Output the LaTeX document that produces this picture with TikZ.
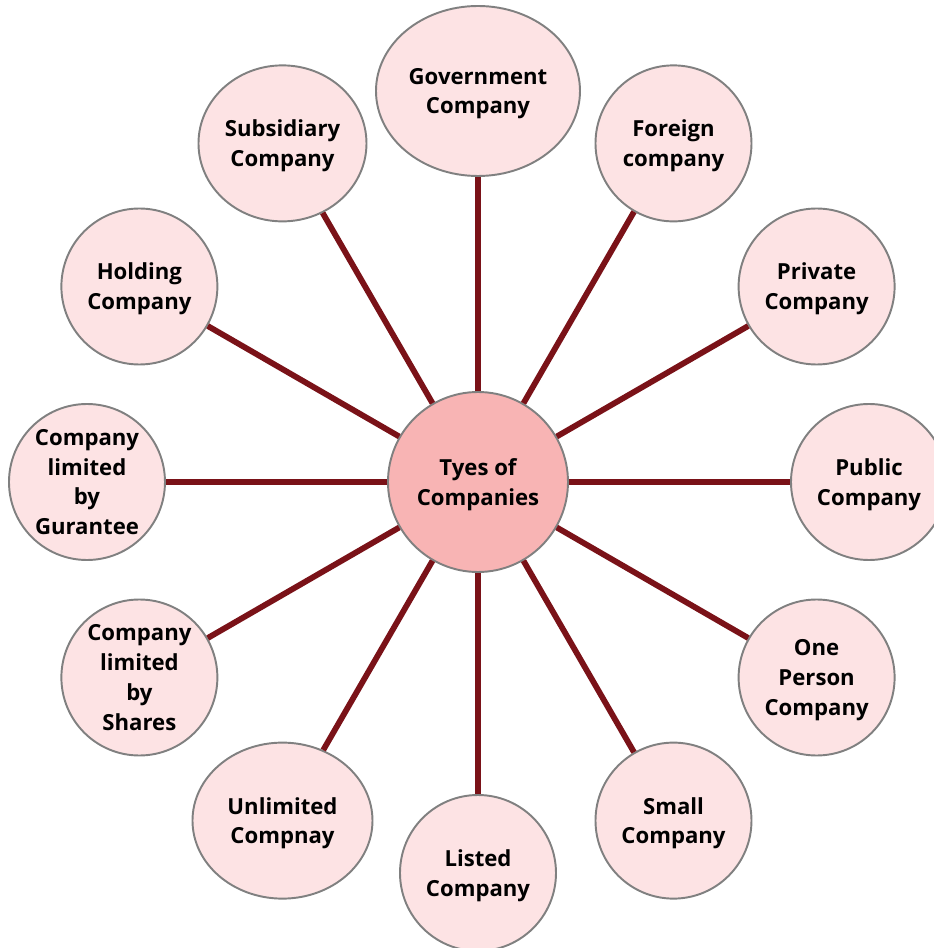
\documentclass[tikz,border=0pt]{standalone}
\usepackage{fontspec}
\setmainfont{Open Sans}
\usetikzlibrary{shapes.geometric}
\definecolor{vien}{HTML}{808080}
\definecolor{nenhong}{HTML}{FDE3E4}
\definecolor{tamhong}{HTML}{F8B4B4}
\definecolor{daynoi}{HTML}{7A1218}
\begin{document}
\begin{tikzpicture}[font=\bfseries\fontsize{12.6}{17}\selectfont,
	loai/.style={ellipse,draw=vien,line width=1.1pt,fill=nenhong,inner sep=0pt,
		minimum width=3.12cm,minimum height=3.12cm,align=center,text depth=-0.06cm},
	noi/.style={draw=daynoi,line width=3.3pt}]
	\def\R{7.82}%Khoảng cách từ tâm
	\clip (-9.56,-9.32) rectangle (9.12,9.64);
	\node[loai,fill=tamhong,minimum width=3.6cm,minimum height=3.6cm] (tam) at (0,0) {Tyes of\\Companies};
	\node[loai,minimum width=4.08cm,minimum height=3.4cm] (c90) at (90:\R) {Government\\Company};
	\node[loai] (c60) at (60:\R) {Foreign\\company};
	\node[loai] (c30) at (30:\R) {Private\\Company};
	\node[loai] (c0) at (0:\R) {Public\\Company};
	\node[loai] (c-30) at (-30:\R) {One\\Person\\Company};
	\node[loai] (c-60) at (-60:\R) {Small\\Company};
	\node[loai] (c-90) at (-90:\R) {Listed\\Company};
	\node[loai,minimum width=3.6cm] (c-120) at (-120:\R) {Unlimited\\Compnay};
	\node[loai] (c-150) at (-150:\R) {Company\\limited\\by\\Shares};
	\node[loai] (c180) at (180:\R) {Company\\limited\\by\\Gurantee};
	\node[loai] (c150) at (150:\R) {Holding\\Company};
	\node[loai,minimum width=3.36cm] (c120) at (120:\R) {Subsidiary\\Company};
	\foreach \g in {90,60,30,0,-30,-60,-90,-120,-150,180,150,120}{
		\draw[noi] (tam) -- (c\g);
	}
\end{tikzpicture}
\end{document}
